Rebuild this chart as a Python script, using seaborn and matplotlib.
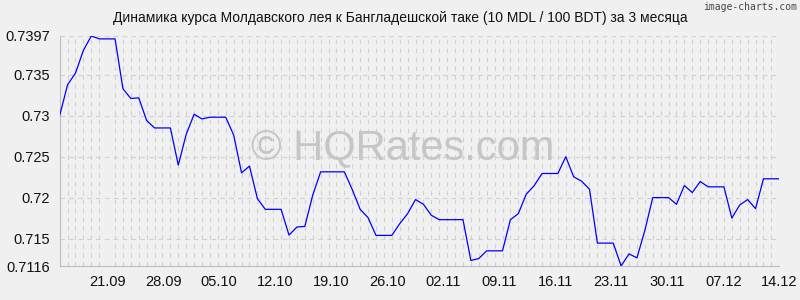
import matplotlib
matplotlib.use("Agg")
import matplotlib.pyplot as plt
from matplotlib.ticker import FixedLocator, MultipleLocator
import seaborn as sns
import numpy as np
import pandas as pd

title = "Динамика курса Молдавского лея к Бангладешской таке (10 MDL / 100 BDT) за 3 месяца"

rates = [
    0.7300, 0.73376, 0.73518, 0.73796, 0.7397, 0.73935, 0.73935, 0.73935,
    0.73327, 0.73208, 0.73216, 0.72939, 0.72849, 0.72849, 0.72849, 0.72396,
    0.72771, 0.73016, 0.72959, 0.72980, 0.72980, 0.72980, 0.72763, 0.72302,
    0.72384, 0.71988, 0.71857, 0.71857, 0.71857, 0.71543, 0.71641, 0.71649,
    0.72029, 0.72314, 0.72314, 0.72314, 0.72314, 0.72098, 0.71857, 0.71755,
    0.71539, 0.71539, 0.71539, 0.71682, 0.71804, 0.71976, 0.71918, 0.71784,
    0.71731, 0.71731, 0.71731, 0.71731, 0.71233, 0.71257, 0.71351, 0.71351,
    0.71351, 0.71731, 0.71804, 0.72041, 0.72145, 0.72294, 0.72294, 0.72294,
    0.72498, 0.72253, 0.72200, 0.72102, 0.71445, 0.71445, 0.71445, 0.71167,
    0.71314, 0.71265, 0.71600, 0.72000, 0.72000, 0.72000, 0.71918, 0.72147,
    0.72061, 0.72196, 0.72131, 0.72131, 0.72131, 0.71751, 0.71910, 0.71976,
    0.71865, 0.72229, 0.72229, 0.72229,
]

x_labels = ["21.09", "28.09", "05.10", "12.10", "19.10", "26.10", "02.11",
            "09.11", "16.11", "23.11", "30.11", "07.12", "14.12"]

y_ticks = [0.7116, 0.715, 0.72, 0.725, 0.73, 0.735, 0.7397]
y_tick_labels = ["0.7116", "0.715", "0.72", "0.725", "0.73", "0.735", "0.7397"]

watermark = "© HQRates.com"
credit = "image-charts.com"

sns.set_theme(style="white")
plt.rcParams['font.family'] = ['Liberation Sans', 'DejaVu Sans']

bg = '#f0f0f0'
grid_c = '#d0d0d0'

fig = plt.figure(figsize=(8, 3), dpi=100, facecolor=bg)
ax = fig.add_axes([0.0746, 0.1117, 0.8995, 0.7683])
ax.set_facecolor(bg)

df = pd.DataFrame({'idx': np.arange(len(rates)), 'rate': rates})
sns.lineplot(data=df, x='idx', y='rate', color='#0000ff', linewidth=0.9, ax=ax, zorder=3)

n = len(rates)
ax.set_xlim(0, n - 1)
ax.set_ylim(y_ticks[0], y_ticks[-1])
ax.set_xlabel('')
ax.set_ylabel('')

# x ticks: labels evenly spread, minor ticks per data point
label_pos = np.linspace(6, n - 1, len(x_labels))
ax.xaxis.set_major_locator(FixedLocator(label_pos))
ax.set_xticklabels(x_labels)
ax.xaxis.set_minor_locator(MultipleLocator(1))
ax.tick_params(axis='x', which='major', length=0, pad=6, labelsize=10.5, labelcolor='#111111')
ax.tick_params(axis='x', which='minor', length=4, width=0.8, color=grid_c, direction='out')

ax.yaxis.set_major_locator(FixedLocator(y_ticks))
ax.set_yticklabels(y_tick_labels)
ax.tick_params(axis='y', which='major', length=4, width=0.8, color=grid_c, pad=3,
               labelsize=10.5, labelcolor='#111111')

ax.grid(which='minor', axis='x', color=grid_c, linestyle=(0, (4, 4)), linewidth=0.8, zorder=0)
ax.grid(which='major', axis='y', color=grid_c, linestyle=(0, (4, 4)), linewidth=0.8, zorder=0)
ax.grid(which='major', axis='x', visible=False)

for s in ['top', 'right']:
    ax.spines[s].set_visible(False)
for s in ['left', 'bottom']:
    ax.spines[s].set_color('#bdbdbd')
    ax.spines[s].set_linewidth(0.8)

ax.text(0.476, 0.515, watermark, transform=ax.transAxes, ha='center', va='center',
        fontsize=30, color='#c6c6c6', zorder=1)

fig.text(0.5, 1 - 18 / 300, title, ha='center', va='center', fontsize=10, color='#111111')
fig.text(0.996, 1 - 7 / 300, credit, ha='right', va='center', fontsize=7,
         color='#444444', family=['DejaVu Sans Mono', 'DejaVu Sans'])

fig.savefig('out.png', dpi=100, facecolor=bg)
